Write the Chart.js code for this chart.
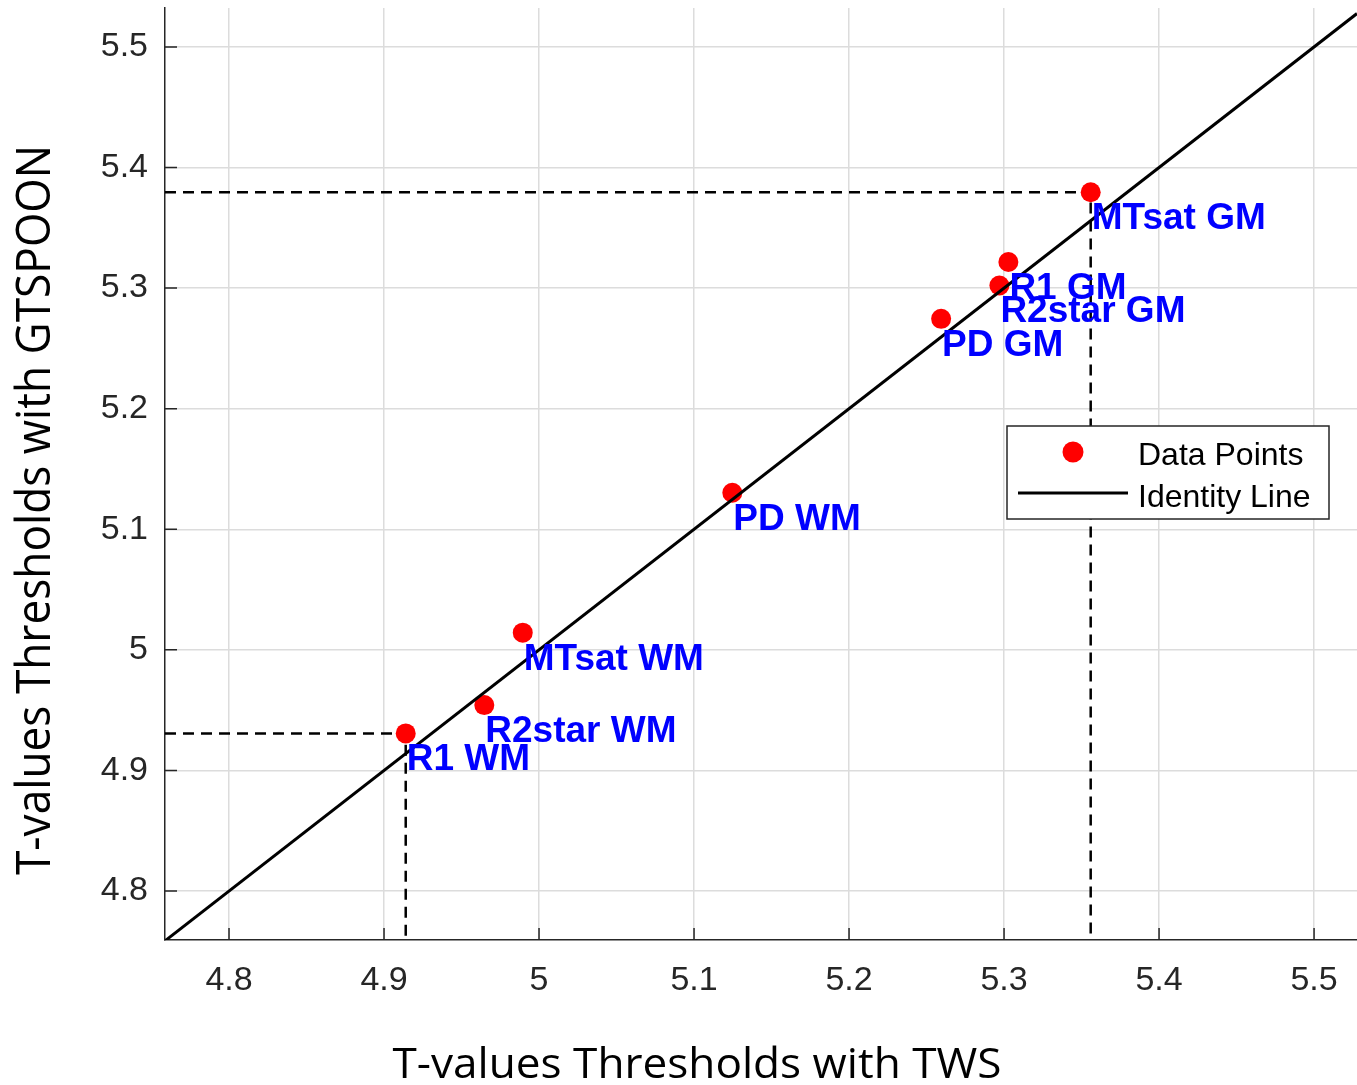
<!DOCTYPE html>
<html lang="en">
  <head>
    <meta charset="UTF-8" />
    <meta name="viewport" content="width=device-width, initial-scale=1.0" />
    <title>T-values Thresholds - TWS vs GTSPOON</title>
    <style>
      body {
        margin: 0;
        background-color: #ffffff;
      }
      .chart-container {
        position: relative;
        width: 1357px;
        height: 1085px;
      }
    </style>
  </head>
  <body>
    <div class="chart-container">
      <canvas id="thresholdChart"></canvas>
    </div>
    <script src="https://cdn.jsdelivr.net/npm/chart.js"></script>
    <script>
      const pointLabels = ["MTsat GM", "R1 GM", "R2star GM", "PD GM", "PD WM", "MTsat WM", "R2star WM", "R1 WM"];
      const twsValues = [5.3559, 5.3028, 5.297, 5.2594, 5.1247, 4.9895, 4.9647, 4.914];
      const gtspoonValues = [5.3795, 5.3217, 5.3022, 5.2745, 5.1303, 5.0143, 4.9542, 4.9307];

      const xTicks = [4.8, 4.9, 5.0, 5.1, 5.2, 5.3, 5.4, 5.5];
      const xTickLabels = ["4.8", "4.9", "5", "5.1", "5.2", "5.3", "5.4", "5.5"];
      const yTicks = [4.8, 4.9, 5.0, 5.1, 5.2, 5.3, 5.4, 5.5];
      const yTickLabels = ["4.8", "4.9", "5", "5.1", "5.2", "5.3", "5.4", "5.5"];
      const xLimits = [4.7587, 5.5277];
      const yLimits = [4.7594, 5.5323];

      const xTitle = "T-values Thresholds with TWS";
      const yTitle = "T-values Thresholds with GTSPOON";

      const tickFont = "'Liberation Sans', Arial, sans-serif";
      const titleFont = "'Open Sans', sans-serif";
      const axisColor = "#262626";

      const points = twsValues.map((x, i) => ({ x: x, y: gtspoonValues[i] }));
      const identity = [
        { x: xLimits[0], y: xLimits[0] },
        { x: xLimits[1], y: xLimits[1] },
      ];

      // guide lines to the highest and lowest GTSPOON threshold
      const iMax = gtspoonValues.indexOf(Math.max(...gtspoonValues));
      const iMin = gtspoonValues.indexOf(Math.min(...gtspoonValues));
      const guide = (i) => [
        { x: xLimits[0], y: gtspoonValues[i] },
        { x: twsValues[i], y: gtspoonValues[i] },
        { x: twsValues[i], y: yLimits[0] },
      ];

      function drawFitted(ctx, text, x, y, rotation, font, width) {
        ctx.save();
        ctx.translate(x, y);
        ctx.rotate(rotation);
        ctx.font = font;
        const w = ctx.measureText(text).width;
        ctx.scale(width / w, 1);
        ctx.textAlign = "center";
        ctx.textBaseline = "alphabetic";
        ctx.fillStyle = "#000000";
        ctx.fillText(text, 0, 0);
        ctx.restore();
      }

      const decorations = {
        id: "decorations",
        afterDatasetsDraw(chart) {
          const { ctx, scales, chartArea } = chart;
          const xs = scales.x;
          const ys = scales.y;

          // inward ticks
          ctx.save();
          ctx.strokeStyle = axisColor;
          ctx.lineWidth = 1.5;
          ctx.beginPath();
          xTicks.forEach((v) => {
            const px = xs.getPixelForValue(v);
            ctx.moveTo(px, chartArea.bottom);
            ctx.lineTo(px, chartArea.bottom - 12);
          });
          yTicks.forEach((v) => {
            const py = ys.getPixelForValue(v);
            ctx.moveTo(chartArea.left, py);
            ctx.lineTo(chartArea.left + 12, py);
          });
          ctx.stroke();
          ctx.restore();

          // point labels
          ctx.save();
          ctx.font = "bold 37px " + tickFont;
          ctx.fillStyle = "#0000ff";
          ctx.textAlign = "left";
          ctx.textBaseline = "alphabetic";
          pointLabels.forEach((label, i) => {
            const px = xs.getPixelForValue(twsValues[i]);
            const py = ys.getPixelForValue(gtspoonValues[i]);
            ctx.fillText(label, px + 1, py + 37);
          });
          ctx.restore();

          // legend
          const box = { left: 1007, top: 426, width: 322, height: 93 };
          const dots = chart.data.datasets[1];
          const line = chart.data.datasets[0];
          ctx.save();
          ctx.fillStyle = "#ffffff";
          ctx.fillRect(box.left, box.top, box.width, box.height);
          ctx.strokeStyle = axisColor;
          ctx.lineWidth = 1.5;
          ctx.strokeRect(box.left, box.top, box.width, box.height);

          ctx.fillStyle = dots.backgroundColor;
          ctx.beginPath();
          ctx.arc(box.left + 66, box.top + 26, 10.5, 0, Math.PI * 2);
          ctx.fill();

          ctx.strokeStyle = line.borderColor;
          ctx.lineWidth = line.borderWidth;
          ctx.beginPath();
          ctx.moveTo(box.left + 11, box.top + 67);
          ctx.lineTo(box.left + 121, box.top + 67);
          ctx.stroke();

          ctx.fillStyle = "#000000";
          ctx.font = "32px " + tickFont;
          ctx.textAlign = "left";
          ctx.textBaseline = "alphabetic";
          ctx.fillText(dots.label, box.left + 131, box.top + 39);
          ctx.fillText(line.label, box.left + 131, box.top + 81);
          ctx.restore();

          // axis titles
          drawFitted(ctx, xTitle, 697, 1078, 0, "42px " + titleFont, 609);
          drawFitted(ctx, yTitle, 50, 510, -Math.PI / 2, "48px " + titleFont, 730);
        },
      };

      const config = {
        type: "scatter",
        data: {
          datasets: [
            {
              label: "Identity Line",
              data: identity,
              showLine: true,
              borderColor: "#000000",
              borderWidth: 3,
              pointRadius: 0,
              order: 0,
            },
            {
              label: "Data Points",
              data: points,
              backgroundColor: "#ff0000",
              borderWidth: 0,
              pointRadius: 10,
              order: 1,
            },
            {
              label: "max guide",
              data: guide(iMax),
              showLine: true,
              borderColor: "#000000",
              borderWidth: 2.5,
              borderDash: [11, 7],
              pointRadius: 0,
              order: 2,
            },
            {
              label: "min guide",
              data: guide(iMin),
              showLine: true,
              borderColor: "#000000",
              borderWidth: 2.5,
              borderDash: [11, 7],
              pointRadius: 0,
              order: 2,
            },
          ],
        },
        options: {
          responsive: true,
          maintainAspectRatio: false,
          animation: false,
          layout: {
            autoPadding: false,
            padding: { top: 8, right: 0, bottom: 0, left: 0 },
          },
          plugins: {
            legend: { display: false },
            tooltip: { enabled: false },
          },
          scales: {
            x: {
              type: "linear",
              position: "bottom",
              min: xLimits[0],
              max: xLimits[1],
              afterBuildTicks: (scale) => {
                scale.ticks = xTicks.map((v) => ({ value: v }));
              },
              afterFit: (scale) => {
                scale.height = 145;
                scale.paddingLeft = 0;
                scale.paddingRight = 0;
              },
              ticks: {
                autoSkip: false,
                maxRotation: 0,
                padding: 20,
                color: axisColor,
                font: { family: tickFont, size: 34 },
                callback: (value, index) => xTickLabels[index],
              },
              grid: { color: "#dcdcdc", lineWidth: 1.5, drawTicks: false },
              border: { color: axisColor, width: 1.5 },
            },
            y: {
              type: "linear",
              position: "left",
              min: yLimits[0],
              max: yLimits[1],
              afterBuildTicks: (scale) => {
                scale.ticks = yTicks.map((v) => ({ value: v }));
              },
              afterFit: (scale) => {
                scale.width = 165;
                scale.paddingTop = 0;
                scale.paddingBottom = 0;
              },
              ticks: {
                autoSkip: false,
                padding: 17,
                color: axisColor,
                font: { family: tickFont, size: 34 },
                callback: (value, index) => yTickLabels[index],
              },
              grid: { color: "#dcdcdc", lineWidth: 1.5, drawTicks: false },
              border: { color: axisColor, width: 1.5 },
            },
          },
        },
        plugins: [decorations],
      };

      const thresholdChart = new Chart(
        document.getElementById("thresholdChart"),
        config
      );
    </script>
  </body>
</html>
